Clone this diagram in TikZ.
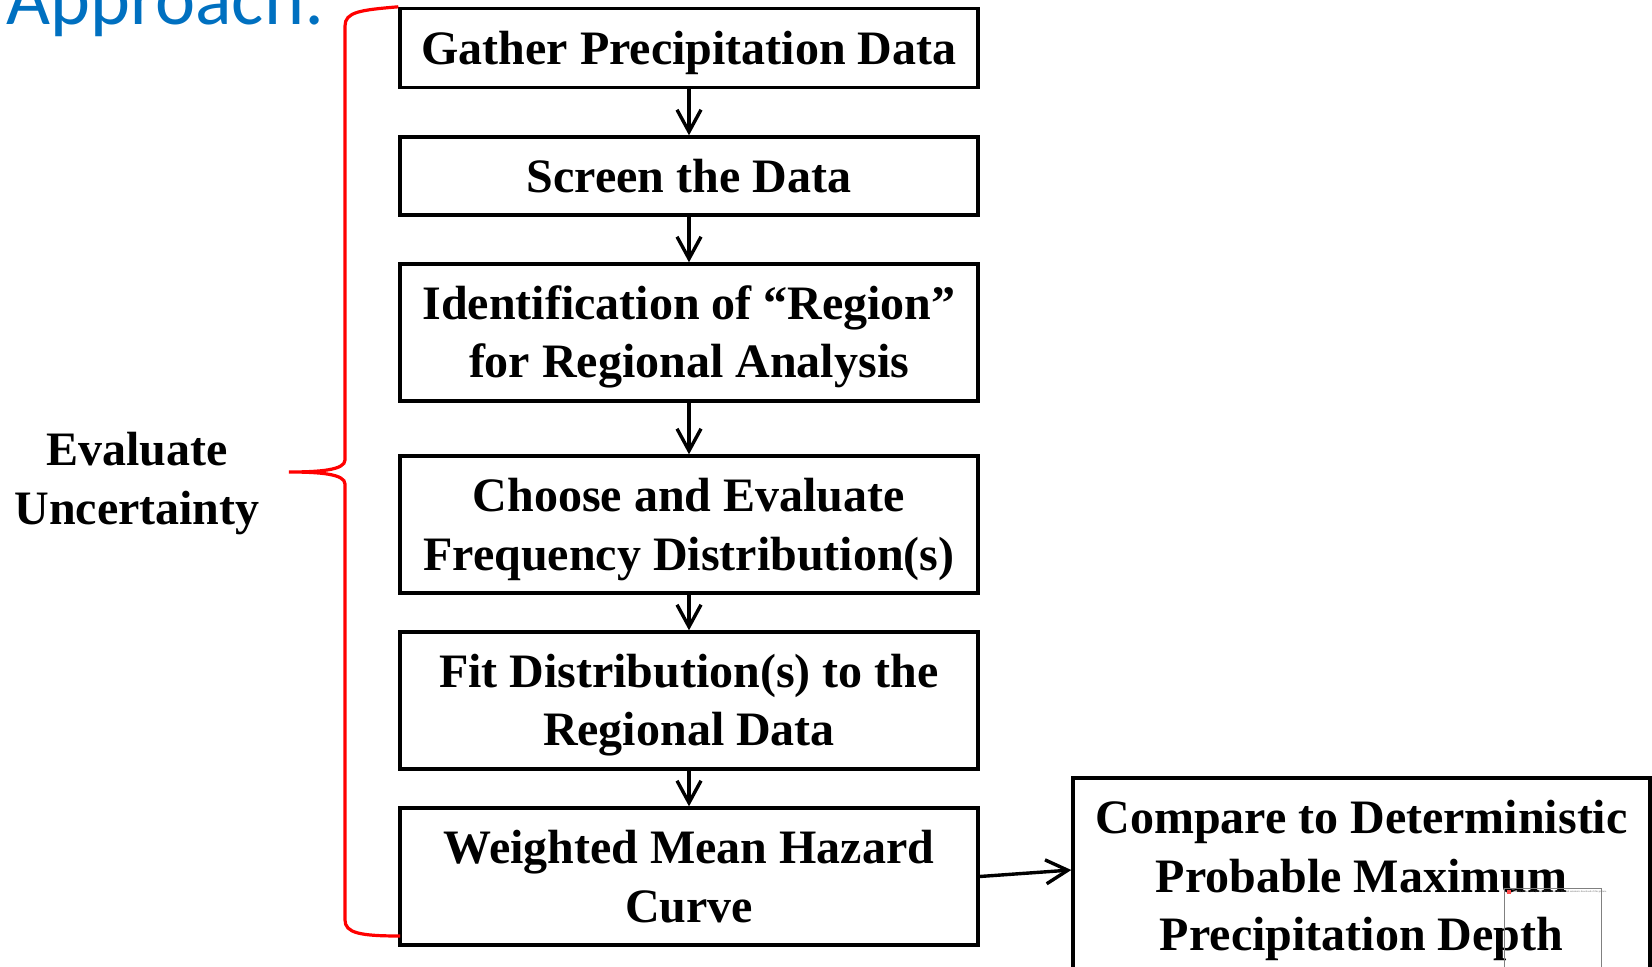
\documentclass[tikz,border=0pt]{standalone}
\usepackage{fontspec}
\setmainfont{Liberation Serif}
\newfontfamily\approachfont{Carlito}
\usetikzlibrary{arrows.meta, positioning}
\definecolor{apprblue}{HTML}{0070C0}
\definecolor{bracered}{HTML}{FF0000}
\newcommand{\pptstrut}{\rule[-0.216em]{0pt}{1.107em}}

\begin{document}
\begin{tikzpicture}[x=0.5pt,y=-0.5pt,
    boxfont/.style={font=\bfseries\fontsize{24}{29.3}\selectfont,
      execute at begin node=\pptstrut,execute at end node=\pptstrut},
    stepbox/.style={draw,line width=1.7pt,minimum width=289pt,text width=280pt,align=flush center,inner sep=0pt,boxfont},
    flow/.style={line width=1.7pt,-{Straight Barb[length=11pt,width=12pt,line width=1.7pt]}}]
        \useasboundingbox (0,0) rectangle (1652,967);
        \clip (0,0) rectangle (1652,967);
        % title (cut off at the top)
        \node[anchor=base west,inner sep=0pt,text=apprblue,font=\approachfont\fontsize{38}{40}\selectfont] (approach) at (6,25) {Approach:};
        % main steps
        \node[stepbox,minimum height=39.5pt] (gather) at (689,48) {Gather Precipitation Data};
        \node[stepbox,minimum height=39pt] (screen) at (689,176) {Screen the Data};
        \node[stepbox,minimum height=68.5pt] (region) at (689,332.5) {Identification of “Region”\\for Regional Analysis};
        \node[stepbox,minimum height=68.5pt] (choose) at (689,524.5) {Choose and Evaluate\\Frequency Distribution(s)};
        \node[stepbox,minimum height=68.5pt] (fit) at (689,700.5) {Fit Distribution(s) to the\\Regional Data};
        \node[stepbox,minimum height=68.5pt] (hazard) at (689,876.5) {Weighted Mean Hazard\\Curve};
        \node[stepbox,minimum width=288.5pt,minimum height=98pt] (compare) at (1361.5,876) {Compare to Deterministic\\Probable Maximum\\Precipitation Depth};
        \foreach \a/\b in {gather/screen,screen/region,region/choose,choose/fit,fit/hazard} {
          \draw[flow] (\a) -- (\b);
        }
        \draw[flow] (hazard.east) -- ([yshift=3]compare.west);
        % blocked picture placeholder
        \node[draw=gray,line width=0.4pt,minimum width=48.5pt,minimum height=45pt,anchor=north west,inner sep=0pt] (blocked) at (1504,888) {};
        \fill[red!70] (1507,890) rectangle (1511,894);
        \node[anchor=west,inner sep=0pt,font=\fontsize{1.3}{1.5}\selectfont,text=gray!80!black] (blockedtxt) at (1513,892) {To help protect your privacy, PowerPoint has blocked automatic download of this picture.};
        % brace
        \draw[bracered,line width=1.6pt] (gather.north west) .. controls (360,10) and (345,12) .. (345,26)
          -- (345,460) .. controls (345,470) and (320,472) .. (289,472)
          .. controls (320,472) and (345,474) .. (345,484)
          -- (345,920) .. controls (345,933) and (360,936) .. (400,936);
        \node[boxfont,text width=130pt,align=flush center,inner sep=0pt] (evaluate) at (137,479) {Evaluate\\Uncertainty};
      \end{tikzpicture}
\end{document}
